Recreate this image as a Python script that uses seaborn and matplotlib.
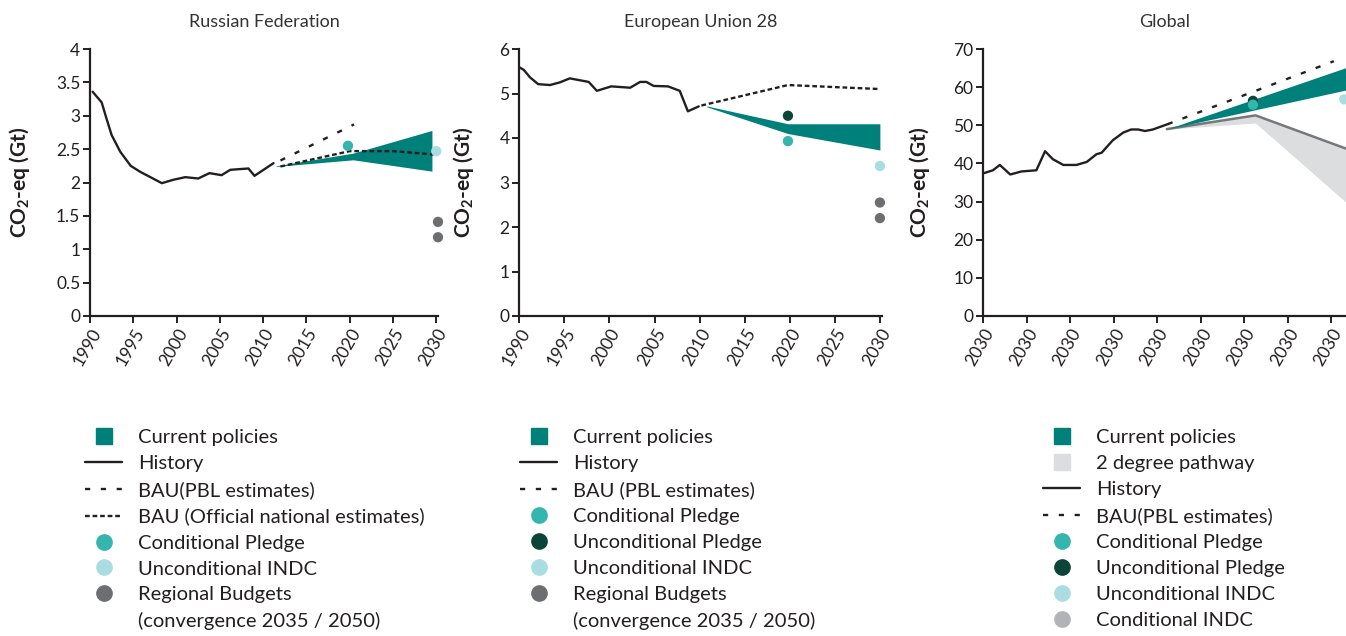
import numpy as np
import pandas as pd
import matplotlib
matplotlib.use("Agg")
import matplotlib.pyplot as plt
import seaborn as sns
from matplotlib.lines import Line2D
from matplotlib.legend_handler import HandlerLine2D
from matplotlib.ticker import FuncFormatter

# colours
teal = "#00807A"
cond_pledge_c = "#34B5AE"
uncond_pledge_c = "#0B4539"
indc_c = "#AADDE2"
budget_c = "#6D6E71"
cond_indc_c = "#B1B3B6"
two_deg_c = "#DCDDDE"
two_deg_line = "#77787B"
ink = "#231F20"

# ---- Russian Federation ----
rus_hist_year = [1990.3, 1991.35, 1991.9, 1992.5, 1993.5, 1994.7, 1995.8, 1998.3, 1999.6,
                 2001.0, 2002.5, 2003.8, 2005.2, 2006.2, 2008.3, 2009.0, 2011.2]
rus_hist_val = [3.36, 3.20, 2.96, 2.71, 2.46, 2.25, 2.16, 1.99, 2.04,
                2.08, 2.06, 2.14, 2.11, 2.19, 2.21, 2.10, 2.29]
rus_pbl_year = [2012, 2020.5]
rus_pbl_val = [2.33, 2.87]
rus_off_year = [2012, 2020, 2025, 2029.7]
rus_off_val = [2.24, 2.47, 2.47, 2.42]
rus_cp_year = [2011.5, 2020.4, 2029.5]
rus_cp_low = [2.24, 2.34, 2.17]
rus_cp_high = [2.25, 2.44, 2.78]
rus_cond_pledge = (2019.8, 2.55)
rus_indc = (2030.0, 2.47)
rus_budget_year = [2030.2, 2030.2]
rus_budget_val = [1.41, 1.18]

# ---- European Union 28 ----
eu_hist_year = [1990, 1990.5, 1991.2, 1992.1, 1993.4, 1994.5, 1995.6, 1997.7, 1998.6,
                2000.2, 2002.3, 2003.4, 2004.1, 2004.9, 2006.5, 2007.8, 2008.7, 2009.9]
eu_hist_val = [5.59, 5.53, 5.36, 5.21, 5.19, 5.25, 5.34, 5.26, 5.06,
               5.16, 5.13, 5.26, 5.26, 5.17, 5.16, 5.06, 4.60, 4.71]
eu_pbl_year = [2010.2, 2019.8, 2030]
eu_pbl_val = [4.73, 5.19, 5.10]
eu_cp_year = [2010.8, 2019.8, 2030]
eu_cp_high = [4.72, 4.32, 4.32]
eu_cp_low = [4.70, 4.10, 3.73]
eu_uncond_pledge = (2019.8, 4.50)
eu_cond_pledge = (2019.8, 3.93)
eu_indc = (2030.0, 3.37)
eu_budget_year = [2030, 2030]
eu_budget_val = [2.55, 2.20]

# ---- Global ----
glob_hist_year = [1990, 1991.1, 1991.9, 1993.1, 1994.4, 1996.1, 1997.1, 1998.0, 1999.2, 2000.7,
                  2001.9, 2003.0, 2003.6, 2004.9, 2006.1, 2007.0, 2007.8, 2008.6, 2009.5, 2011.2]
glob_hist_val = [37.4, 38.2, 39.6, 37.1, 37.9, 38.2, 43.2, 41.1, 39.6, 39.6,
                 40.4, 42.4, 42.8, 46.1, 48.1, 48.9, 48.9, 48.5, 48.9, 50.3]
glob_pbl_year = [2011.2, 2030.3]
glob_pbl_val = [50.3, 66.8]
glob_cp_year = [2011.1, 2031.8]
glob_cp_low = [49.0, 59.3]
glob_cp_high = [49.0, 65.2]
glob_2deg_year = [2011.1, 2021.3, 2031.8]
glob_2deg_high = [49.0, 52.6, 43.8]
glob_2deg_low = [49.0, 50.6, 29.6]
glob_uncond_pledge = (2021.0, 56.4)
glob_cond_pledge = (2021.0, 55.4)
glob_indc = (2031.5, 56.8)
glob_tick_pos = [1990, 1995, 2000, 2005, 2010, 2015, 2020, 2025, 2030]
glob_tick_lab = ["2030"] * 9

sns.set_style("ticks")
plt.rcParams["font.family"] = ["Lato", "DejaVu Sans"]
plt.rcParams["mathtext.default"] = "regular"

fig = plt.figure(figsize=(13.46, 6.36), dpi=100)
H = 636.0
W = 1346.0
bottom = 1 - 316 / H
height = (316 - 49) / H
ax1 = fig.add_axes([90 / W, bottom, 348 / W, height])
ax2 = fig.add_axes([519.3 / W, bottom, 362.4 / W, height])
ax3 = fig.add_axes([983.3 / W, bottom, 362.7 / W, height])

pbl_ls = (0, (2.2, 4.5))
off_ls = (0, (2.0, 1.2))


def hist_line(ax, x, y):
    sns.lineplot(x=x, y=y, ax=ax, color=ink, linewidth=1.7)


def dot(ax, pts, color, clip=False):
    xs = [p[0] for p in pts]
    ys = [p[1] for p in pts]
    sns.scatterplot(x=xs, y=ys, ax=ax, color=color, s=55, edgecolor="none",
                    zorder=5, clip_on=clip)


# Russia
ax1.fill_between(rus_cp_year, rus_cp_low, rus_cp_high, color=teal, linewidth=0, zorder=2)
hist_line(ax1, rus_hist_year, rus_hist_val)
sns.lineplot(x=rus_pbl_year, y=rus_pbl_val, ax=ax1, color=ink, linewidth=1.7, linestyle=pbl_ls)
sns.lineplot(x=rus_off_year, y=rus_off_val, ax=ax1, color=ink, linewidth=1.7, linestyle=off_ls, zorder=3)
dot(ax1, [rus_cond_pledge], cond_pledge_c)
dot(ax1, [rus_indc], indc_c)
dot(ax1, list(zip(rus_budget_year, rus_budget_val)), budget_c)
ax1.set_ylim(0, 4)
ax1.set_yticks(np.arange(0, 4.01, 0.5))
ax1.set_xlim(1990, 2030.2)
ax1.set_xticks(range(1990, 2031, 5))
ax1.set_title("Russian Federation", fontsize=13, color="#333333", pad=16)

# EU
ax2.fill_between(eu_cp_year, eu_cp_low, eu_cp_high, color=teal, linewidth=0, zorder=2)
hist_line(ax2, eu_hist_year, eu_hist_val)
sns.lineplot(x=eu_pbl_year, y=eu_pbl_val, ax=ax2, color=ink, linewidth=1.7, linestyle=off_ls)
dot(ax2, [eu_uncond_pledge], uncond_pledge_c)
dot(ax2, [eu_cond_pledge], cond_pledge_c)
dot(ax2, [eu_indc], indc_c)
dot(ax2, list(zip(eu_budget_year, eu_budget_val)), budget_c)
ax2.set_ylim(0, 6)
ax2.set_yticks(range(0, 7))
ax2.set_xlim(1990, 2030.2)
ax2.set_xticks(range(1990, 2031, 5))
ax2.set_title("European Union 28", fontsize=13, color="#333333", pad=16)

# Global
ax3.fill_between(glob_2deg_year, glob_2deg_low, glob_2deg_high, color=two_deg_c, linewidth=0, zorder=1)
sns.lineplot(x=glob_2deg_year, y=glob_2deg_high, ax=ax3, color=two_deg_line, linewidth=1.8)
ax3.fill_between(glob_cp_year, glob_cp_low, glob_cp_high, color=teal, linewidth=0, zorder=2)
hist_line(ax3, glob_hist_year, glob_hist_val)
sns.lineplot(x=glob_pbl_year, y=glob_pbl_val, ax=ax3, color=ink, linewidth=1.7, linestyle=pbl_ls)
dot(ax3, [glob_uncond_pledge], uncond_pledge_c)
dot(ax3, [glob_cond_pledge], cond_pledge_c)
dot(ax3, [glob_indc], indc_c, clip=True)
ax3.set_ylim(0, 70)
ax3.set_yticks(range(0, 71, 10))
ax3.set_xlim(1990, 2031.7)
ax3.set_xticks(glob_tick_pos)
ax3.set_xticklabels(glob_tick_lab)
ax3.set_title("Global", fontsize=13, color="#333333", pad=16)

label_x = {ax1: -0.167, ax2: -0.119, ax3: -0.141}
for ax in (ax1, ax2, ax3):
    sns.despine(ax=ax)
    for s in ("left", "bottom"):
        ax.spines[s].set_color(ink)
        ax.spines[s].set_linewidth(1.6)
    ax.tick_params(axis="both", length=5, width=1.4, color=ink, labelcolor=ink,
                   labelsize=12.5, pad=2)
    ax.yaxis.set_major_formatter(FuncFormatter(lambda v, p: f"{v:g}"))
    if ax is not ax3:
        ax.set_xticklabels([str(t) for t in range(1990, 2031, 5)])
    plt.setp(ax.get_xticklabels(), rotation=60, ha="right", rotation_mode="anchor")
    ax.set_ylabel("CO$_2$-eq (Gt)", fontsize=15, fontweight="bold", color=ink)
    ax.yaxis.set_label_coords(label_x[ax], 0.5)
    ax.set_xlabel("")


class LeftMarkerHandler(HandlerLine2D):
    def get_xdata(self, legend, xdescent, ydescent, width, height, fontsize):
        xdata, _ = super().get_xdata(legend, xdescent, ydescent, width, height, fontsize)
        return xdata, [-xdescent + 0.2 * width]


def sq(c, label):
    return Line2D([], [], linestyle="none", marker="s", markersize=11, color=c, label=label)


def circ(c, label):
    return Line2D([], [], linestyle="none", marker="o", markersize=11, color=c, label=label)


def ln(ls, label):
    return Line2D([], [], color=ink, linewidth=1.7, linestyle=ls, label=label)


leg1 = [sq(teal, "Current policies"), ln("-", "History"), ln(pbl_ls, "BAU(PBL estimates)"),
        ln(off_ls, "BAU (Official national estimates)"), circ(cond_pledge_c, "Conditional Pledge"),
        circ(indc_c, "Unconditional INDC"), circ(budget_c, "Regional Budgets"),
        Line2D([], [], linestyle="none", label="(convergence 2035 / 2050)")]
leg2 = [sq(teal, "Current policies"), ln("-", "History"), ln(pbl_ls, "BAU (PBL estimates)"),
        circ(cond_pledge_c, "Conditional Pledge"), circ(uncond_pledge_c, "Unconditional Pledge"),
        circ(indc_c, "Unconditional INDC"), circ(budget_c, "Regional Budgets"),
        Line2D([], [], linestyle="none", label="(convergence 2035 / 2050)")]
leg3 = [sq(teal, "Current policies"), sq(two_deg_c, "2 degree pathway"), ln("-", "History"),
        ln(pbl_ls, "BAU(PBL estimates)"), circ(cond_pledge_c, "Conditional Pledge"),
        circ(uncond_pledge_c, "Unconditional Pledge"), circ(indc_c, "Unconditional INDC"),
        circ(cond_indc_c, "Conditional INDC")]

for handles, x0 in ((leg1, 85), (leg2, 520), (leg3, 1043)):
    lg = fig.legend(handles=handles, loc="upper left", bbox_to_anchor=(x0 / W, 1 - 429 / H),
                    frameon=False, fontsize=14.5, handlelength=1.84, handletextpad=0.8,
                    labelspacing=0.44, borderpad=0, borderaxespad=0,
                    handler_map={Line2D: LeftMarkerHandler()})
    for t in lg.get_texts():
        t.set_color(ink)

fig.savefig("out.png", dpi=100)
